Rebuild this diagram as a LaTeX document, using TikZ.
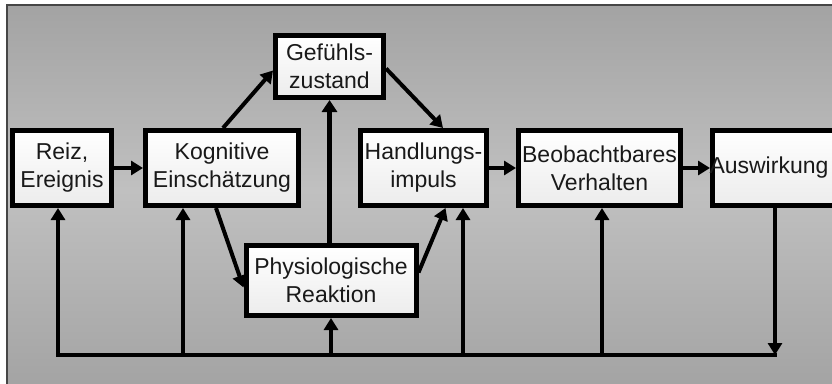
\documentclass[tikz,border=0pt]{standalone}
\usepackage{fontspec}
\setmainfont{Liberation Sans}
\usetikzlibrary{arrows.meta,calc}
\definecolor{bgdark}{RGB}{163,163,163}
\definecolor{bglight}{RGB}{192,192,192}
\definecolor{boxlow}{RGB}{236,236,236}
\definecolor{txt}{RGB}{25,25,25}
\definecolor{framec}{RGB}{70,70,70}
\begin{document}
\begin{tikzpicture}[x=1pt,y=-1pt,
  box/.style={draw=black,line width=5pt,top color=white,bottom color=boxlow,
    inner sep=0pt,align=center,text=txt,font=\fontsize{23}{28}\selectfont},
  con/.style={draw=black,line width=4pt,-{Triangle[length=12pt,width=14pt]}},
  fbl/.style={draw=black,line width=4pt},
  thick con/.style={draw=black,line width=5pt,-{Triangle[length=12pt,width=15pt]}}
]
\useasboundingbox (0,0) rectangle (832,383);
\fill[white] (0,0) rectangle (832,383);
\shade[top color=bgdark,bottom color=bglight] (7,5) rectangle (840,190);
\shade[top color=bglight,bottom color=bgdark] (7,190) rectangle (840,390);
\draw[framec,line width=1.5pt] (7,390) -- (7,5) -- (840,5);

\node[box,minimum width=99pt,minimum height=75pt] (reiz) at (62,168) {Reiz,\\Ereignis};
\node[box,minimum width=153pt,minimum height=75pt] (kog) at (222,168) {Kognitive\\Einschätzung};
\node[box,minimum width=108pt,minimum height=62pt] (gef) at (329.5,66.5) {Gefühls-\\zustand};
\node[box,minimum width=126pt,minimum height=75pt] (hand) at (423.5,168) {Handlungs-\\impuls};
\node[box,minimum width=162pt,minimum height=75pt] (beob) at (599.5,168) {Beobachtbares\\Verhalten};
\node[box,minimum width=135pt,minimum height=75pt,text width=135pt,align=left] (ausw) at (780,168) {\hspace*{-3pt}Auswirkung};
\node[box,minimum width=170pt,minimum height=70pt] (phys) at (331,280.5) {Physiologische\\Reaktion};

% main flow
\draw[con] (reiz.east) -- (kog.west);
\draw[con] (hand.east) -- (beob.west);
\draw[con] (beob.east) -- (ausw.west);
\draw[con] ($(kog.north)+(1,0)$) -- ($(gef.west)+(0,4)$);
\draw[con] ($(gef.east)+(0,2)$) -- ($(hand.north)+(19.5,0)$);
\draw[con] ($(kog.south)+(-6,0)$) -- ($(phys.west)+(0,7)$);
\draw[con] ($(phys.east)+(0,-8)$) -- ($(hand.south)+(22,0)$);
\draw[thick con] (phys.north -| gef.south) -- (gef.south);

% feedback loop
\coordinate (f1) at (58,355);
\coordinate (f2) at (183,355);
\coordinate (f3) at (331,355);
\coordinate (f4) at (463,355);
\coordinate (f5) at (602,355);
\coordinate (f6) at (775,355);
\draw[fbl,line cap=rect] (f1) -- (f6);
\draw[con] (ausw.south -| f6) -- (f6);
\draw[con] (f1) -- (f1 |- reiz.south);
\draw[con] (f2) -- (f2 |- kog.south);
\draw[con] (f3) -- (phys.south);
\draw[con] (f4) -- (f4 |- hand.south);
\draw[con] (f5) -- (f5 |- beob.south);
\end{tikzpicture}
\end{document}
